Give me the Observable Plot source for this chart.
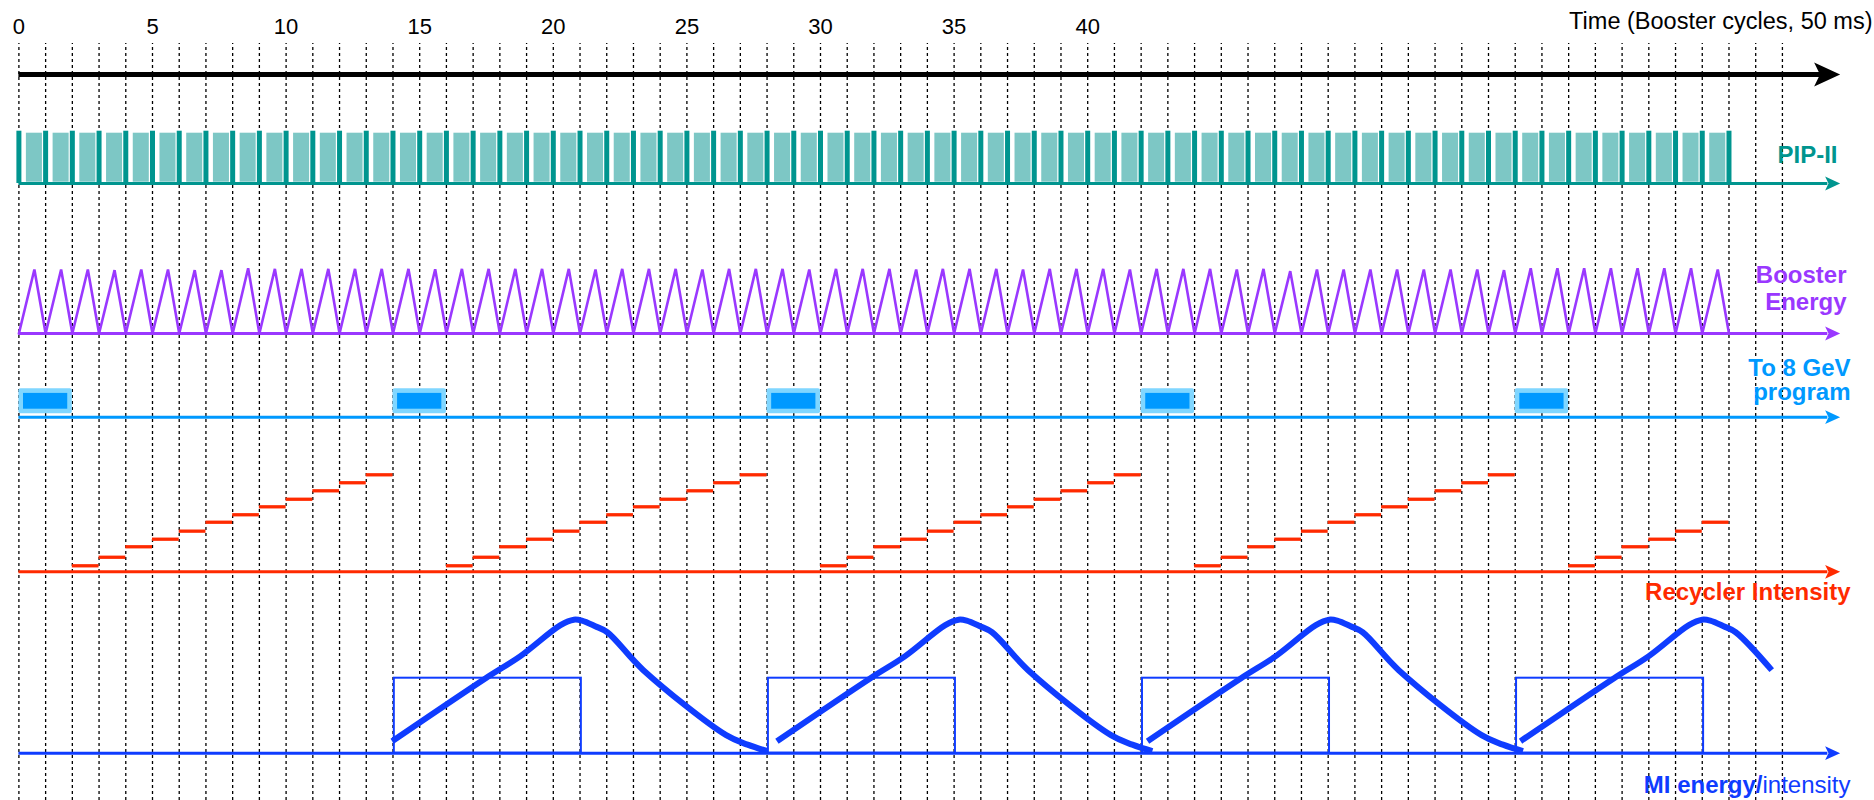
<!DOCTYPE html>
<html>
<head>
<meta charset="utf-8">
<script src="https://cdn.jsdelivr.net/npm/d3@7"></script>
<script src="https://cdn.jsdelivr.net/npm/@observablehq/plot@0.6"></script>
<style>
  html, body { margin: 0; padding: 0; background: #ffffff; }
  #chart svg { display: block; }
</style>
</head>
<body>
<div id="chart"></div>
<script>
// ---------------- DATA ----------------
// Time axis: Booster cycles (50 ms each)
const gridCycles = d3.range(0, 67);                 // dashed cycle boundaries 0..66
const tickLabels = [0, 5, 10, 15, 20, 25, 30, 35, 40];
const axisTitle = "Time (Booster cycles, 50 ms)";

// PIP-II: one pulse per Booster cycle
const pipCycles = d3.range(0, 64);
const pipBoundaries = d3.range(0, 65);

// Booster energy: relative peak of each ramp (cycle 0..63)
const boosterPeaks = [
  0.98, 0.98, 0.98, 0.97, 0.98, 0.98, 0.97, 0.97,
  1.00, 0.99, 0.99, 0.99, 0.99, 0.99, 0.99, 0.985, 0.99, 0.99, 0.99, 0.99, 0.99,
  0.98, 0.99, 0.99, 0.99, 0.98, 0.99, 0.99, 0.99, 0.98, 0.99, 0.99, 0.99, 0.98,
  0.99, 0.99, 0.99, 0.98, 0.99, 0.99, 0.99, 0.98, 0.99, 0.99, 0.99, 0.98, 0.99,
  0.955, 0.98, 0.98, 0.98, 0.98, 0.98, 0.98, 0.98, 0.97,
  1.00, 1.00, 1.00, 1.00, 1.00, 1.00, 1.00, 0.98
];
const boosterPeakPhase = 0.58;   // fraction of the cycle at which the ramp peaks

// "To 8 GeV program" batches: start cycle and length (cycles)
const gevStarts = [0, 14, 28, 42, 56];
const gevLength = 2;

// Recycler intensity: staircase groups (start cycle) and relative step levels
const recyclerStarts = [2, 16, 30, 44, 58];
const recyclerStepCounts = [12, 12, 12, 12, 6];
const recyclerLevels = [0.062, 0.15, 0.258, 0.336, 0.419, 0.511, 0.588, 0.67, 0.748, 0.835, 0.918, 1.0];

// MI energy: ramp cycles (start cycle), shape (offset in cycles, relative energy)
const miStarts = [13.97, 28.37, 42.24, 56.2];
const miCycleEnds = [14.05, 14.05, 14.05, 9.4];
const miShapeOffsets = [0, 3.5, 4.8, 6.3, 6.8, 7.1, 7.6, 8.05, 9.4, 12.5, 13.3, 14.05];
const miShapeLevels  = [0.09, 0.562, 0.727, 0.959, 1.0, 0.993, 0.951, 0.906, 0.622, 0.135, 0.064, 0.015];

// MI intensity: boxes (start cycle, length, relative level)
const miIntStarts = [14, 28, 42, 56];
const miIntLength = 7;
const miIntLevel = 1;

// Row labels
const labelPip = "PIP-II";
const labelBooster = "Booster\nEnergy";
const labelGev = "To 8 GeV\nprogram";
const labelRec = "Recycler Intensity";
const labelMiBold = "MI energy/";
const labelMiRegular = "intensity";

// ---------------- LAYOUT / STYLE ----------------
const W = 1874, H = 800;
const pxPerCycle = 26.72, x0px = 18.4;
const xDomain = [-x0px / pxPerCycle, (W - x0px) / pxPerCycle];
// y units: pixels measured upward from the bottom of the chart
const lane = {time: 726, pip: 617, booster: 467, gev: 383.3, rec: 228.7, mi: 47.3};
const amp = {pip: 52.3, booster: 65.3, rec: 97, mi: 133.5, miInt: 75};
const arrowTip = 68.16;
const lineEnd = 67.7;
const gridTop = 757;

const C = {
  tealDark: "#00958f", tealLight: "#7dc7c5",
  purple: "#9a38ff",
  sky: "#0099ff", skyLight: "#80d6ff",
  red: "#ff2a00",
  blue: "#0f3cff"
};
const FONT = "'Liberation Sans', Arial, Helvetica, sans-serif";

const arrowHead = {
  draw(ctx, size) {
    const r = Math.sqrt(size / Math.PI);
    ctx.moveTo(0, 0);
    ctx.lineTo(-2 * r, -0.92 * r);
    ctx.lineTo(-1.55 * r, 0);
    ctx.lineTo(-2 * r, 0.92 * r);
    ctx.closePath();
  }
};

// ---------------- DERIVED TABLES ----------------
const boosterPts = [];
boosterPeaks.forEach((p, k) => {
  boosterPts.push({x: k, y: lane.booster});
  boosterPts.push({x: k + boosterPeakPhase, y: lane.booster + p * amp.booster});
});
boosterPts.push({x: boosterPeaks.length, y: lane.booster});

const recSteps = [];
recyclerStarts.forEach((s, g) => {
  for (let i = 0; i < recyclerStepCounts[g]; i++) {
    recSteps.push({x1: s + i, x2: s + i + 1, y: lane.rec + recyclerLevels[i] * amp.rec});
  }
});

const miPts = [];
miStarts.forEach((s, c) => {
  miShapeOffsets.forEach((o, i) => {
    if (o <= miCycleEnds[c] + 1e-9) miPts.push({cycle: c, x: s + o, y: lane.mi + miShapeLevels[i] * amp.mi});
  });
});

const baselines = [
  {y: lane.pip, color: C.tealDark},
  {y: lane.booster, color: C.purple},
  {y: lane.gev, color: C.sky},
  {y: lane.rec, color: C.red},
  {y: lane.mi, color: C.blue}
];

// ---------------- CHART ----------------
const chart = Plot.plot({
  width: W,
  height: H,
  margin: 0,
  x: {domain: xDomain, axis: null},
  y: {domain: [0, H], axis: null},
  style: {fontFamily: FONT, background: "#ffffff", overflow: "visible"},
  marks: [
    // dashed cycle grid
    Plot.ruleX(gridCycles, {x: d => d, y1: 0, y2: gridTop, stroke: "#000", strokeWidth: 1.3, strokeDasharray: "3,3"}),

    // time axis labels
    Plot.text(tickLabels, {x: d => d, y: 774, text: d => String(d), fontSize: 22, fill: "#000"}),
    Plot.text([axisTitle], {frameAnchor: "right", y: 779.4, dx: -2, text: d => d, textAnchor: "end", fontSize: 23.5, fill: "#000"}),

    // time arrow
    Plot.ruleY([lane.time], {y: d => d, x1: 0, x2: arrowTip - 0.6, stroke: "#000", strokeWidth: 5}),
    Plot.dot([lane.time], {x: arrowTip, y: d => d, r: 13, symbol: arrowHead, fill: "#000", stroke: "none"}),

    // PIP-II pulses
    Plot.rect(pipCycles, {x1: d => d + 0.28, x2: d => d + 0.88, y1: lane.pip + 1.3, y2: lane.pip + 50.3, fill: C.tealLight}),
    Plot.ruleX(pipBoundaries, {x: d => d, y1: lane.pip, y2: lane.pip + amp.pip, stroke: C.tealDark, strokeWidth: 5}),

    // Booster ramps
    Plot.line(boosterPts, {x: "x", y: "y", stroke: C.purple, strokeWidth: 2.6, strokeLinejoin: "miter"}),

    // 8 GeV batches
    Plot.rect(gevStarts, {x1: d => d, x2: d => d + gevLength, y1: lane.gev + 3.4, y2: lane.gev + 28.4, fill: C.skyLight, rx: 2}),
    Plot.rect(gevStarts, {x1: d => d, x2: d => d + gevLength, y1: lane.gev + 3.4, y2: lane.gev + 28.4, fill: C.sky, inset: 4.6}),

    // Recycler staircase
    Plot.ruleY(recSteps, {x1: "x1", x2: "x2", y: "y", stroke: C.red, strokeWidth: 3.3}),

    // MI intensity boxes
    Plot.rect(miIntStarts, {x1: d => d + 0.05, x2: d => d + miIntLength + 0.05, y1: lane.mi, y2: lane.mi + miIntLevel * amp.miInt, fill: "none", stroke: C.blue, strokeWidth: 2}),
    // MI energy
    Plot.line(miPts, {x: "x", y: "y", z: "cycle", curve: "catmull-rom", stroke: C.blue, strokeWidth: 6, strokeLinecap: "butt"}),

    // baselines and arrow heads
    Plot.ruleY(baselines, {y: "y", x1: 0, x2: lineEnd, stroke: "color", strokeWidth: 3}),
    Plot.dot(baselines, {x: arrowTip, y: "y", r: 7.5, symbol: arrowHead, fill: "color", stroke: "none"}),

    // row labels
    Plot.text([labelPip], {frameAnchor: "right", y: 645, dx: -37, text: d => d, textAnchor: "end", fontSize: 24, fontWeight: "bold", fill: C.tealDark}),
    Plot.text([labelBooster], {frameAnchor: "right", y: 512.5, dx: -28, text: d => d, textAnchor: "end", fontSize: 24, fontWeight: "bold", lineHeight: 1.1, fill: C.purple}),
    Plot.text([labelGev], {frameAnchor: "right", y: 419.7, dx: -24, text: d => d, textAnchor: "end", fontSize: 24, fontWeight: "bold", lineHeight: 1.0, fill: C.sky}),
    Plot.text([labelRec], {frameAnchor: "right", y: 207.7, dx: -24, text: d => d, textAnchor: "end", fontSize: 24, fontWeight: "bold", fill: C.red}),
    Plot.text([labelMiRegular], {frameAnchor: "right", y: 15, dx: -24, text: d => d, textAnchor: "end", fontSize: 24, fill: C.blue}),
    Plot.text([labelMiBold], {frameAnchor: "right", y: 15, dx: -112, text: d => d, textAnchor: "end", fontSize: 24, fontWeight: "bold", fill: C.blue})
  ]
});
document.getElementById("chart").appendChild(chart);
</script>
</body>
</html>
